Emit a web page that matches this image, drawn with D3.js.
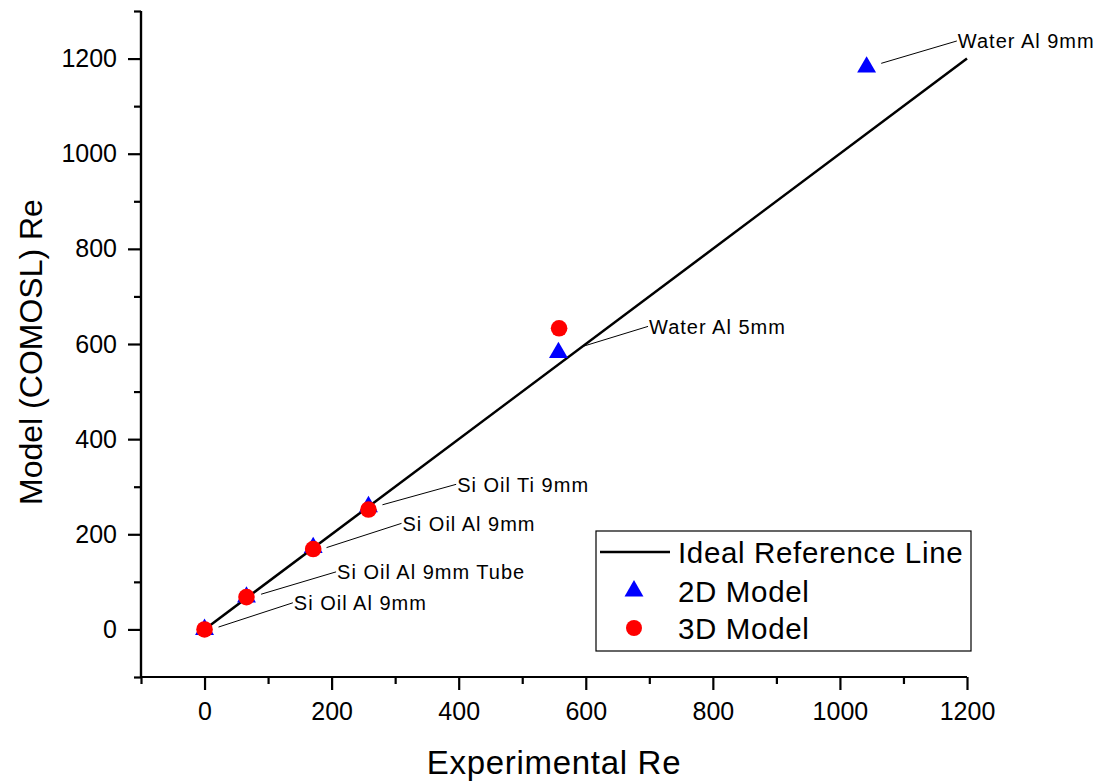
<!DOCTYPE html>
<html>
<head>
<meta charset="utf-8">
<script src="https://cdn.jsdelivr.net/npm/d3@7"></script>
<style>
  html, body { margin: 0; padding: 0; background: #fff; }
  svg { display: block; font-family: "Liberation Sans", Arial, sans-serif; }
</style>
</head>
<body>
<svg id="chart" width="1103" height="783"></svg>
<script>
// Reynolds numbers: experiment vs. COMSOL model
const experimentalRe = [0, 66, 171, 258, 557, 1042];
const model2D = [0, 68, 172, 258, 582, 1182];
const model3DExp = [0, 66, 171, 258, 558];
const model3D = [0, 68, 169, 252, 633];

// Case labels: leader start (near point) and label anchor, in data units
const caseLabels = ["Si Oil Al 9mm", "Si Oil Al 9mm Tube", "Si Oil Al 9mm", "Si Oil Ti 9mm", "Water Al 5mm", "Water Al 9mm"];
const leaderFromX = [22, 89, 192, 280, 593, 1065];
const leaderFromY = [5, 74, 172, 262, 594, 1190];
const labelX = [139, 207, 310, 396, 698, 1184];
const labelY = [56, 121, 223, 305, 637, 1237];

const refLine = [0, 1200];

const xMajorTicks = [0, 200, 400, 600, 800, 1000, 1200];
const xMinorTicks = [-100, 100, 300, 500, 700, 900, 1100];
const yMajorTicks = [0, 200, 400, 600, 800, 1000, 1200];
const yMinorTicks = [-100, 100, 300, 500, 700, 900, 1100, 1300];

const legendItems = ["Ideal Reference Line", "2D Model", "3D Model"];

const svg = d3.select("#chart");
const plotL = 141, plotR = 967, plotT = 11, plotB = 677;

const x = d3.scaleLinear().domain([-100, 1200]).range([plotL, plotR]);
const y = d3.scaleLinear().domain([-100, 1300]).range([plotB, plotT]);

// Axes
function styleAxis(g) {
  g.selectAll("path, line").attr("stroke", "#000").attr("stroke-width", 2.2);
  g.selectAll("text").attr("fill", "#000").attr("font-size", 25);
}

const xAxisG = svg.append("g").attr("transform", `translate(0,${plotB})`);
xAxisG.append("g").call(d3.axisBottom(x).tickValues(xMinorTicks).tickSize(7).tickFormat("")).call(styleAxis);
xAxisG.append("g").call(d3.axisBottom(x).tickValues(xMajorTicks).tickSize(13).tickSizeOuter(0).tickPadding(12).tickFormat(d3.format("d"))).call(styleAxis);
xAxisG.selectAll(".domain").attr("d", `M${plotL},0H${plotR}`);

const yAxisG = svg.append("g").attr("transform", `translate(${plotL},0)`);
yAxisG.append("g").call(d3.axisLeft(y).tickValues(yMinorTicks).tickSize(7).tickFormat("")).call(styleAxis);
yAxisG.append("g").call(d3.axisLeft(y).tickValues(yMajorTicks).tickSize(13).tickSizeOuter(0).tickPadding(11).tickFormat(d3.format("d"))).call(styleAxis);
yAxisG.selectAll(".domain").attr("d", `M0,${plotT}V${plotB}`);

// Axis titles
svg.append("text")
  .attr("x", (plotL + plotR) / 2).attr("y", 774)
  .attr("text-anchor", "middle").attr("font-size", 33).attr("letter-spacing", 0.7).attr("fill", "#000")
  .text("Experimental Re");
svg.append("text")
  .attr("transform", `translate(42,352) rotate(-90)`)
  .attr("text-anchor", "middle").attr("font-size", 32).attr("fill", "#000")
  .text("Model (COMOSL) Re");

// Ideal reference line y = x
svg.append("line")
  .attr("x1", x(refLine[0])).attr("y1", y(refLine[0]))
  .attr("x2", x(refLine[1])).attr("y2", y(refLine[1]))
  .attr("stroke", "#000").attr("stroke-width", 2.5);

const triangle = d3.symbol().type(d3.symbolTriangle).size(155);

// 2D model points
svg.append("g").selectAll("path")
  .data(experimentalRe.map((e, i) => [e, model2D[i]]))
  .join("path")
  .attr("d", triangle)
  .attr("transform", d => `translate(${x(d[0])},${y(d[1])})`)
  .attr("fill", "#0000ff");

// 3D model points
svg.append("g").selectAll("circle")
  .data(model3DExp.map((e, i) => [e, model3D[i]]))
  .join("circle")
  .attr("cx", d => x(d[0])).attr("cy", d => y(d[1]))
  .attr("r", 8.3)
  .attr("fill", "#ff0000");

// Case labels with leader lines
const ann = svg.append("g");
caseLabels.forEach((t, i) => {
  ann.append("line")
    .attr("x1", x(leaderFromX[i])).attr("y1", y(leaderFromY[i]))
    .attr("x2", x(labelX[i])).attr("y2", y(labelY[i]))
    .attr("stroke", "#000").attr("stroke-width", 1);
  ann.append("text")
    .attr("x", x(labelX[i]) + 1).attr("y", y(labelY[i]))
    .attr("dy", "0.36em").attr("font-size", 20).attr("letter-spacing", 1).attr("fill", "#000")
    .text(t);
});

// Legend
const lg = svg.append("g").attr("transform", "translate(596,531)");
lg.append("rect").attr("width", 375).attr("height", 120)
  .attr("fill", "#fff").attr("stroke", "#000").attr("stroke-width", 1.2);
const rowY = [21, 60, 97];
lg.append("line").attr("x1", 4).attr("x2", 74).attr("y1", rowY[0]).attr("y2", rowY[0])
  .attr("stroke", "#000").attr("stroke-width", 2.5);
lg.append("path").attr("d", triangle).attr("transform", `translate(38,${rowY[1]})`).attr("fill", "#0000ff");
lg.append("circle").attr("cx", 38).attr("cy", rowY[2]).attr("r", 8).attr("fill", "#ff0000");
lg.selectAll("text.item").data(legendItems).join("text")
  .attr("class", "item")
  .attr("x", 82).attr("y", (d, i) => rowY[i]).attr("dy", "0.36em")
  .attr("font-size", 29.5).attr("letter-spacing", 0.65).attr("fill", "#000")
  .text(d => d);
</script>
</body>
</html>
